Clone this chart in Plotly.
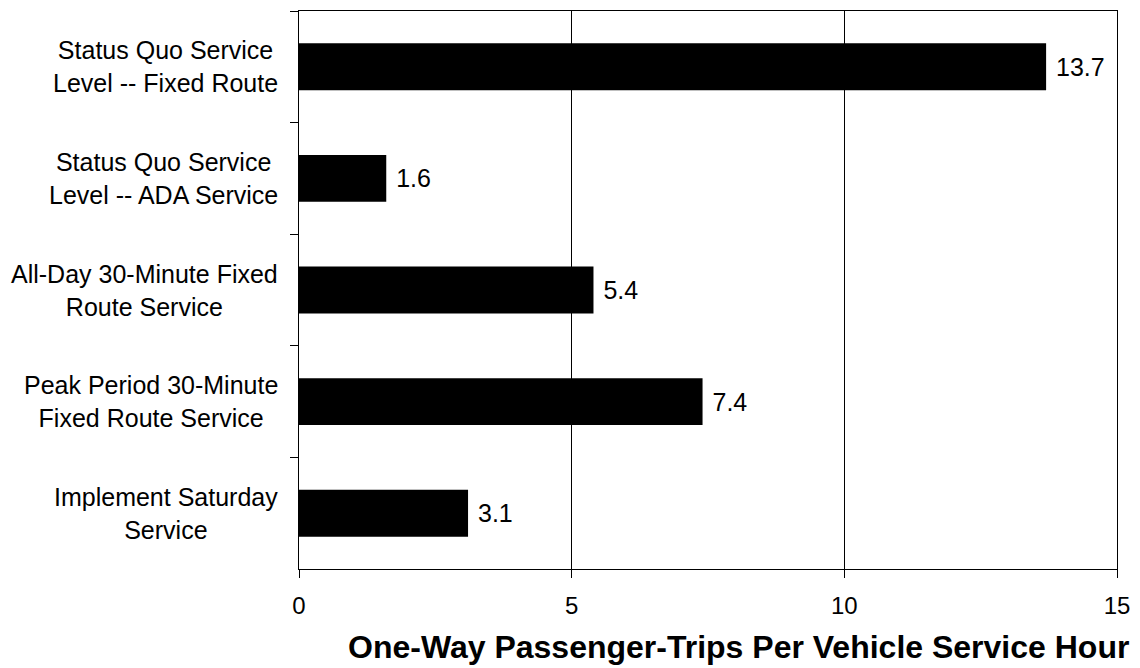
import plotly.graph_objects as go

# Service scenarios and their productivity (one-way trips per vehicle service hour)
categories = [
    "Status Quo Service<br>Level -- Fixed Route",
    "Status Quo Service<br>Level -- ADA Service",
    "All-Day 30-Minute Fixed<br>Route Service",
    "Peak Period 30-Minute<br>Fixed Route Service",
    "Implement Saturday<br>Service",
]
values = [13.7, 1.6, 5.4, 7.4, 3.1]
x_ticks = [0, 5, 10, 15]
x_title = "One-Way Passenger-Trips Per Vehicle Service Hour"

FONT = "Liberation Sans, Arial, sans-serif"

fig = go.Figure(
    go.Bar(
        x=values,
        y=categories,
        orientation="h",
        width=0.42,
        marker=dict(color="black", line=dict(width=0)),
        text=[f" {v:.1f}" for v in values],
        textposition="outside",
        textfont=dict(family=FONT, size=25, color="black"),
        cliponaxis=False,
        hoverinfo="skip",
    )
)

# Category labels, centred multi-line text to the left of the axis
annotations = [
    dict(
        x=0, xref="paper", y=c, yref="y",
        text=c, showarrow=False,
        xanchor="right", yanchor="middle", align="center",
        xshift=-19,
        font=dict(family=FONT, size=25, color="black"),
    )
    for c in categories
]
# Axis title, set as free text so it can sit right of centre
annotations.append(
    dict(
        x=0.537, xref="paper", y=0, yref="paper",
        yshift=-78, yanchor="middle", xanchor="center",
        text=f"<b>{x_title}</b>", showarrow=False,
        font=dict(family=FONT, size=32, color="black"),
    )
)

fig.update_layout(
    width=1140,
    height=668,
    margin=dict(l=299, r=18, t=10, b=99),
    paper_bgcolor="white",
    plot_bgcolor="white",
    showlegend=False,
    font=dict(family=FONT, color="black"),
    annotations=annotations,
    xaxis=dict(
        range=[0, 15],
        tickvals=x_ticks,
        ticktext=[str(t) for t in x_ticks],
        showgrid=True,
        gridcolor="black",
        gridwidth=1,
        zeroline=False,
        showline=True,
        linecolor="black",
        linewidth=1,
        mirror=True,
        ticks="outside",
        ticklen=8,
        tickcolor="black",
        tickfont=dict(family=FONT, size=24, color="black"),
        ticklabelstandoff=7,
    ),
    yaxis=dict(
        type="category",
        categoryorder="array",
        categoryarray=categories,
        autorange="reversed",
        showticklabels=False,
        showgrid=False,
        zeroline=False,
        showline=True,
        linecolor="black",
        linewidth=1,
        mirror=True,
        ticks="outside",
        tickson="boundaries",
        ticklen=8,
        tickcolor="black",
    ),
)

fig.write_html("out.html")
